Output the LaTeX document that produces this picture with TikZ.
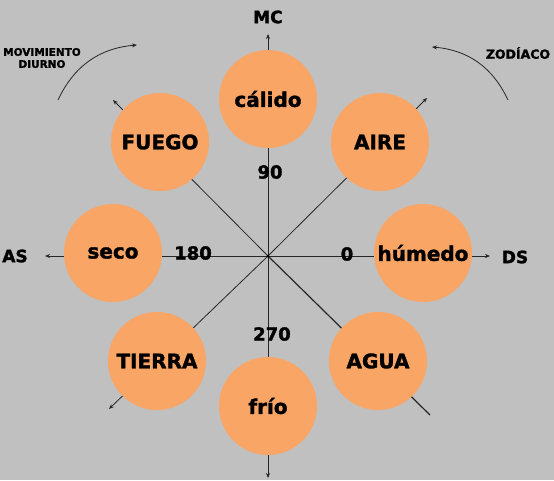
\documentclass[tikz,border=0pt]{standalone}
\usepackage{fontspec}
\setmainfont[BoldFeatures={FakeBold=1.6}]{DejaVu Sans}
\usetikzlibrary{arrows.meta}
\definecolor{fondo}{HTML}{C0C0C0}
\definecolor{naranja}{HTML}{F9A566}
\tikzset{
  cualidad/.style={circle, fill=naranja, minimum size=98pt, inner sep=0pt,
    font=\bfseries\fontsize{20}{24}\selectfont},
  grado/.style={font=\bfseries\fontsize{18}{20}\selectfont},
  eje/.style={font=\bfseries\fontsize{17}{20}\selectfont},
  linea/.style={draw=black!85, line width=0.8pt},
}
\begin{document}
\begin{tikzpicture}[x=1pt, y=1pt, >={Stealth[length=5pt,width=4pt]}]
  \fill[fondo] (-268,-224) rectangle (286,256);
  \useasboundingbox (-268,-224) rectangle (286,256);
  % centro y extremos de los ejes
  \coordinate (o) at (0,0);
  \coordinate (n) at (0,222);
  \coordinate (s) at (0,-222);
  \coordinate (w) at (-223,0);
  \coordinate (e) at (222,0);
  \coordinate (nw) at (-155,156);
  \coordinate (ne) at (159,158);
  \coordinate (sw) at (-159,-153);
  \coordinate (se) at (162,-159);
  \path[linea]
  (o) edge[->] (n)
  (o) edge[->] (s)
  (o) edge[->] (w)
  (o) edge[->] (e)
  (o) edge[->] (nw)
  (o) edge[->] (ne)
  (o) edge[->] (sw)
  (o) edge[line width=1.2pt] (se);
  \fill[black] (o) circle (1.5pt);
  % cualidades y elementos
  \node[cualidad] (calido) at (0,157) {cálido};
  \node[cualidad] (frio) at (0,-150) {frío};
  \node[cualidad] (seco) at (-155,3) {seco};
  \node[cualidad] (humedo) at (155,3) {húmedo};
  \node[cualidad] (fuego) at (-108,114) {FUEGO};
  \node[cualidad] (aire) at (112,114) {AIRE};
  \node[cualidad] (tierra) at (-111,-105) {TIERRA};
  \node[cualidad] (agua) at (110,-105) {AGUA};
  % grados
  \node[grado] (g90) at (2,84) {90};
  \node[grado] (g180) at (-75,3) {180};
  \node[grado] (g0) at (79,2) {0};
  \node[grado] (g270) at (4,-78) {270};
  % ejes
  \node[eje] (mc) at (0,239) {MC};
  \node[eje] (as) at (-253,0) {AS};
  \node[eje] (ds) at (247,-1) {DS};
  % movimientos
  \node[align=center, font=\bfseries\fontsize{10.5}{12}\selectfont] (diurno) at (-226,198) {MOVIMIENTO\\DIURNO};
  \node[font=\bfseries\fontsize{12.5}{14}\selectfont] (zodiaco) at (250,203) {ZODÍACO};
  \coordinate (d1) at (-210,156);
  \coordinate (d2) at (-131,211);
  \coordinate (z1) at (240,156);
  \coordinate (z2) at (164,209);
  \draw[linea, ->] (d1) to[bend left=30] (d2);
  \draw[linea, ->] (z1) to[bend right=30] (z2);
\end{tikzpicture}
\end{document}
